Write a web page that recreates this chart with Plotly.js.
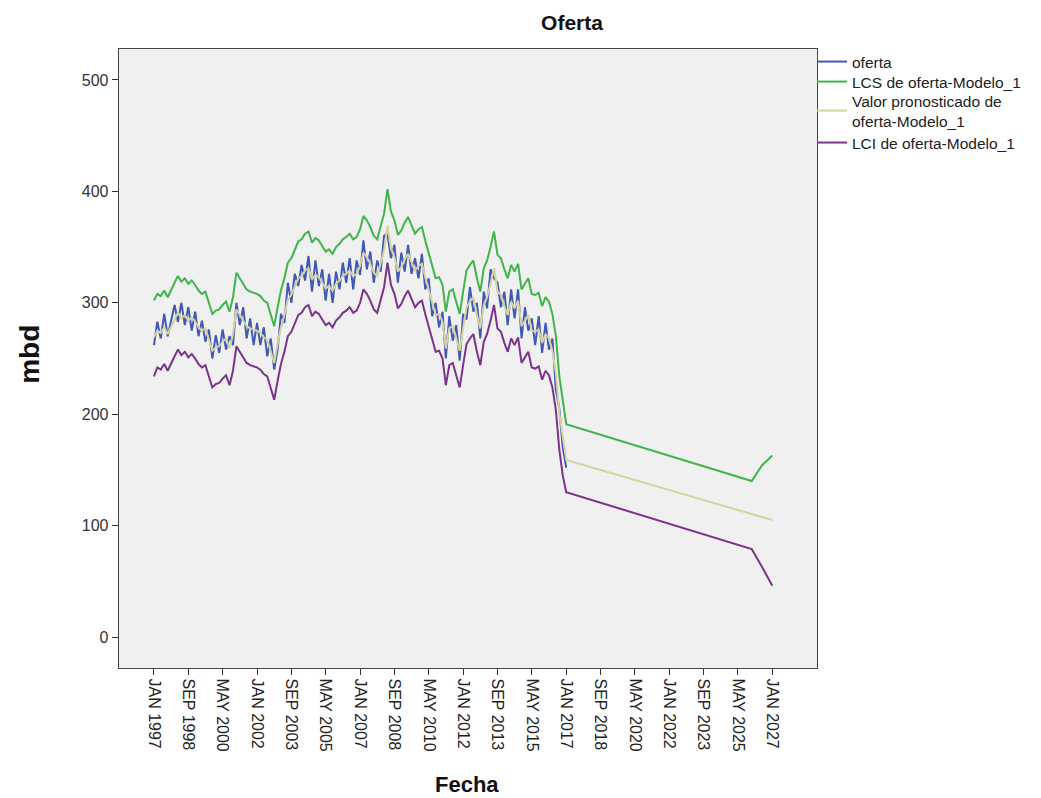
<!DOCTYPE html>
<html>
<head>
<meta charset="utf-8">
<script src="https://cdn.plot.ly/plotly-3.0.1.min.js"></script>
<style>html,body{margin:0;padding:0;background:#fff;}#chart{width:1041px;height:798px;}</style>
</head>
<body>
<div id="chart"></div>
<script>
// Sample dates (every 2 months) from JAN 1997 to JAN 2017
function monthDate(m){var y=1997+Math.floor(m/12);var mo=(m%12)+1;return y+'-'+(mo<10?'0':'')+mo+'-01';}
var histDates=[];for(var m=0;m<=240;m+=2){histDates.push(monthDate(m));}

var oferta=[262,283,268,290,270,285,298,283,300,280,296,275,292,270,284,265,276,250,271,255,276,258,270,262,300,280,296,268,286,262,282,262,278,252,268,240,258,290,282,318,300,326,315,334,320,342,310,338,315,330,302,326,300,328,312,336,318,340,312,338,325,356,330,346,318,338,328,360,362,340,352,318,345,328,352,326,340,322,344,312,322,288,300,278,292,250,288,266,280,248,290,285,314,292,300,268,310,295,330,322,318,296,310,280,312,286,312,268,296,275,286,262,288,255,282,258,268,222,205,170,152];

var lcsHist=[302,308,306,311,305,312,318,324,319,322,317,320,316,311,308,310,300,290,293,294,298,301,292,305,327,322,318,312,310,309,308,306,302,300,290,279,296,311,322,336,340,348,355,357,362,364,354,358,356,351,346,348,344,350,353,357,359,362,357,359,366,378,374,368,360,357,370,380,402,382,374,361,365,372,377,369,362,366,368,356,345,332,322,323,316,292,310,312,302,290,310,329,334,338,322,310,331,338,350,364,343,340,330,322,334,328,335,312,317,322,308,307,309,297,305,301,290,270,234,210,191];

var predHist=[269,275,273,278,272,279,285,291,286,289,284,287,283,278,275,277,267,257,260,261,265,268,259,272,294,289,285,279,277,276,275,273,269,267,257,246,263,278,289,303,307,315,322,324,329,331,321,325,323,318,313,315,311,317,320,324,326,329,324,326,333,345,341,335,327,324,337,347,369,349,341,328,332,339,344,336,329,333,335,323,312,299,289,290,283,259,277,279,269,257,277,296,301,305,289,277,298,305,317,331,310,307,297,289,301,295,302,279,284,289,275,274,276,264,272,268,257,237,201,178,159];

var lciHist=[234,242,240,245,239,246,252,258,253,256,251,254,250,245,242,244,234,224,227,228,232,235,226,239,261,256,252,246,244,243,242,240,236,234,224,213,230,245,256,270,274,282,289,291,296,298,288,292,290,285,280,282,278,284,287,291,293,296,291,293,300,312,308,302,294,291,304,314,336,316,308,295,299,306,311,303,296,300,302,290,279,266,256,257,250,226,244,246,236,224,244,263,268,272,256,244,265,272,284,298,277,274,264,256,268,262,269,246,251,256,242,241,243,231,239,235,224,204,168,145,130];

// Forecast vertices after JAN 2017
var lcsFcDates=['2026-01-01','2026-07-01','2027-01-01'];
var lcsFc=[140,154,163];
var predFcDates=['2027-01-01'];
var predFc=[105];
var lciFcDates=['2026-01-01','2026-07-01','2027-01-01'];
var lciFc=[79,63,46];

var tickDates=['1997-01-01','1998-09-01','2000-05-01','2002-01-01','2003-09-01','2005-05-01','2007-01-01','2008-09-01','2010-05-01','2012-01-01','2013-09-01','2015-05-01','2017-01-01','2018-09-01','2020-05-01','2022-01-01','2023-09-01','2025-05-01','2027-01-01'];
var tickLabels=['JAN 1997','SEP 1998','MAY 2000','JAN 2002','SEP 2003','MAY 2005','JAN 2007','SEP 2008','MAY 2010','JAN 2012','SEP 2013','MAY 2015','JAN 2017','SEP 2018','MAY 2020','JAN 2022','SEP 2023','MAY 2025','JAN 2027'];
var yTicks=[0,100,200,300,400,500];

var FONT='"Liberation Sans", Arial, sans-serif';

var traces=[
 {x:histDates,y:oferta,name:'oferta',legend:'legend',type:'scatter',mode:'lines',line:{color:'#4059b8',width:2}},
 {x:histDates.concat(lcsFcDates),y:lcsHist.concat(lcsFc),name:'LCS de oferta-Modelo_1',legend:'legend2',type:'scatter',mode:'lines',line:{color:'#3fb54a',width:2}},
 {x:histDates.concat(predFcDates),y:predHist.concat(predFc),name:'Valor pronosticado de<br>oferta-Modelo_1',legend:'legend3',type:'scatter',mode:'lines',line:{color:'#d6d3a0',width:2}},
 {x:histDates.concat(lciFcDates),y:lciHist.concat(lciFc),name:'LCI de oferta-Modelo_1',legend:'legend4',type:'scatter',mode:'lines',line:{color:'#7b338c',width:2}}
];

function leg(y){return {x:0.9928,xanchor:'left',y:y,yanchor:'middle',bgcolor:'rgba(0,0,0,0)',borderwidth:0,font:{family:FONT,size:15.5,color:'#222'},tracegroupgap:0,itemwidth:30};}

var layout={
 width:1041,height:798,
 margin:{l:119,r:224,t:49,b:130,pad:0},
 paper_bgcolor:'#ffffff',plot_bgcolor:'#f0f0f0',
 font:{family:FONT,size:16,color:'#222'},
 title:{text:'<b>Oferta</b>',font:{family:FONT,size:21,color:'#111'},x:0.649,xref:'paper',xanchor:'center',y:0.972,yref:'container',yanchor:'middle'},
 showlegend:true,
 legend:leg(0.979),
 legend2:leg(0.9467),
 legend3:leg(0.9),
 legend4:leg(0.8482),
 xaxis:{type:'date',range:['1995-04-22','2029-03-03'],tickmode:'array',tickvals:tickDates,ticktext:tickLabels,tickangle:90,
   ticks:'outside',ticklen:6,tickcolor:'#333',tickwidth:1,showgrid:false,zeroline:false,showline:true,mirror:true,linecolor:'#444',linewidth:1.3,
   tickfont:{family:FONT,size:16,color:'#222'},fixedrange:true},
 yaxis:{range:[-27.8,527.8],tickmode:'array',tickvals:yTicks,ticktext:yTicks.map(String),
   ticks:'outside',ticklen:6,tickcolor:'#333',tickwidth:1,showgrid:false,zeroline:false,showline:true,mirror:true,linecolor:'#444',linewidth:1.3,
   tickfont:{family:FONT,size:16,color:'#333'},fixedrange:true},
 annotations:[
  {text:'<b>mbd</b>',xref:'paper',yref:'paper',x:-0.1275,y:0.506,xanchor:'center',yanchor:'middle',textangle:-90,showarrow:false,font:{family:FONT,size:28,color:'#111'}},
  {text:'<b>Fecha</b>',xref:'paper',yref:'paper',x:0.4986,y:-0.188,xanchor:'center',yanchor:'middle',showarrow:false,font:{family:FONT,size:22,color:'#111'}}
 ]
};

Plotly.newPlot('chart',traces,layout,{staticPlot:true,displayModeBar:false});
</script>
</body>
</html>
